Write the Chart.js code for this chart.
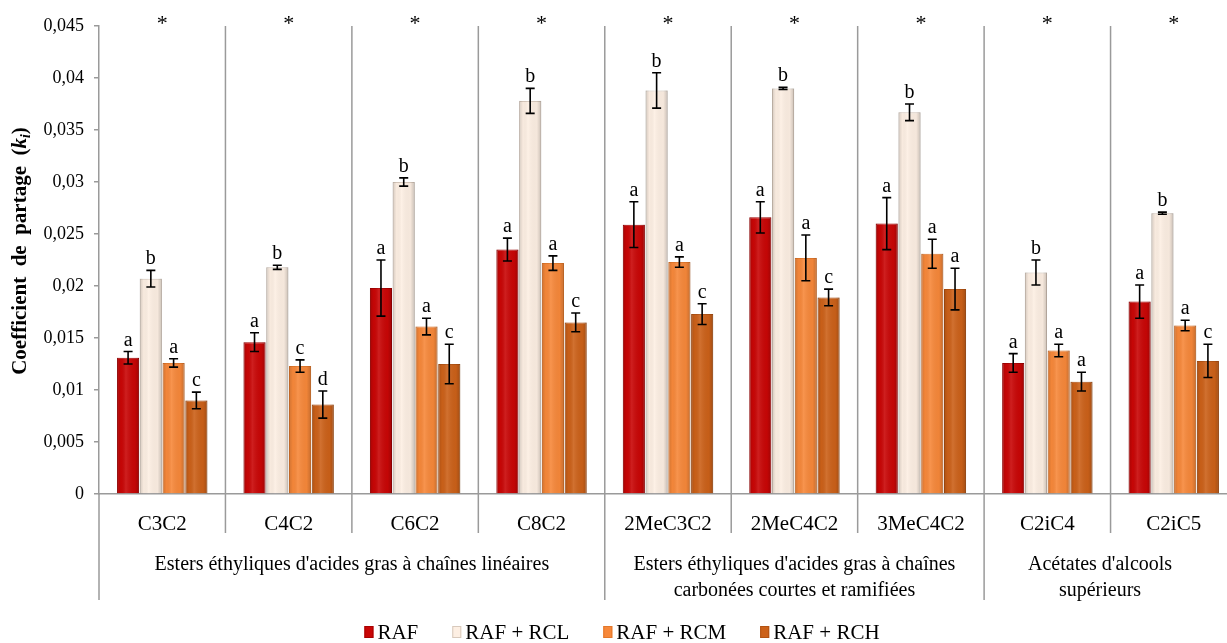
<!DOCTYPE html>
<html>
<head>
<meta charset="utf-8">
<script src="https://cdn.jsdelivr.net/npm/chart.js@4/dist/chart.umd.min.js"></script>
<style>
  html, body { margin: 0; padding: 0; background: #fff; overflow: hidden; }
  #wrap { width: 1227px; height: 643px; overflow: hidden; }
</style>
</head>
<body>
<div id="wrap"><canvas id="chart" width="1240" height="643"></canvas></div>
<script>
const categories = ['C3C2', 'C4C2', 'C6C2', 'C8C2', '2MeC3C2', '2MeC4C2', '3MeC4C2', 'C2iC4', 'C2iC5']
const seriesNames = ['RAF', 'RAF + RCL', 'RAF + RCM', 'RAF + RCH']

const raf = [0.0131, 0.0146, 0.0198, 0.0235, 0.0259, 0.0266, 0.0260, 0.0126, 0.0185]
const rcl = [0.0207, 0.0218, 0.0300, 0.0378, 0.0388, 0.0390, 0.0367, 0.0213, 0.0270]
const rcm = [0.0126, 0.0123, 0.0161, 0.0222, 0.0223, 0.0227, 0.0231, 0.0138, 0.0162]
const rch = [0.0090, 0.0086, 0.0125, 0.0165, 0.0173, 0.0189, 0.0197, 0.0108, 0.0128]

const rafErr = [0.0006, 0.0009, 0.0027, 0.0011, 0.0022, 0.0015, 0.0025, 0.0009, 0.0016]
const rclErr = [0.0008, 0.0002, 0.0004, 0.0012, 0.0017, 0.0001, 0.0008, 0.0012, 0.0001]
const rcmErr = [0.0004, 0.0006, 0.0008, 0.0007, 0.0005, 0.0022, 0.0014, 0.0006, 0.0005]
const rchErr = [0.0008, 0.0013, 0.0019, 0.0009, 0.0010, 0.0008, 0.0020, 0.0009, 0.0016]

const rafLetters = ['a', 'a', 'a', 'a', 'a', 'a', 'a', 'a', 'a']
const rclLetters = ['b', 'b', 'b', 'b', 'b', 'b', 'b', 'b', 'b']
const rcmLetters = ['a', 'c', 'a', 'a', 'a', 'a', 'a', 'a', 'a']
const rchLetters = ['c', 'd', 'c', 'c', 'c', 'c', 'a', 'a', 'c']

const stars = ['*', '*', '*', '*', '*', '*', '*', '*', '*']

const groupNames = [
    ["Esters éthyliques d'acides gras à chaînes linéaires"],
    ["Esters éthyliques d'acides gras à chaînes", 'carbonées courtes et ramifiées'],
    ["Acétates d'alcools", 'supérieurs']
]
const groupStart = [0, 4, 7]
const groupEnd = [3, 6, 8]

const colors = ['#c90606', '#fdefe3', '#f7883a', '#cc6119']
const borders = ['#a80000', '#d8c9bc', '#e2772a', '#b25212']

const SERIF = "'Liberation Serif', 'Times New Roman', serif"
const GRAY = '#9a9a9a'
Chart.defaults.font.family = SERIF

const errs = [rafErr, rclErr, rcmErr, rchErr]
const letters = [rafLetters, rclLetters, rcmLetters, rchLetters]

const overlay = {
    id: 'overlay',
    afterDatasetsDraw(chart) {
        const ctx = chart.ctx
        const area = chart.chartArea
        const x = chart.scales.x
        const y = chart.scales.y
        ctx.save()

        // shading so the bars look rounded
        chart.data.datasets.forEach((ds, i) => {
            chart.getDatasetMeta(i).data.forEach(bar => {
                const l = bar.x - bar.width / 2
                const r = bar.x + bar.width / 2
                const g = ctx.createLinearGradient(l, 0, r, 0)
                g.addColorStop(0, 'rgba(0,0,0,0.16)')
                g.addColorStop(0.18, 'rgba(0,0,0,0.02)')
                g.addColorStop(0.4, 'rgba(255,255,255,0.10)')
                g.addColorStop(0.8, 'rgba(0,0,0,0.03)')
                g.addColorStop(1, 'rgba(0,0,0,0.2)')
                ctx.fillStyle = g
                ctx.fillRect(l, bar.y, r - l, bar.base - bar.y)
            })
        })

        // error bars + letters
        ctx.strokeStyle = '#000'
        ctx.lineWidth = 1.6
        ctx.fillStyle = '#000'
        ctx.font = '20px ' + SERIF
        ctx.textAlign = 'center'
        ctx.textBaseline = 'alphabetic'
        chart.data.datasets.forEach((ds, i) => {
            chart.getDatasetMeta(i).data.forEach((bar, j) => {
                const v = ds.data[j]
                const top = y.getPixelForValue(v + errs[i][j])
                const bot = y.getPixelForValue(v - errs[i][j])
                ctx.beginPath()
                ctx.moveTo(bar.x, top); ctx.lineTo(bar.x, bot)
                ctx.moveTo(bar.x - 4.5, top); ctx.lineTo(bar.x + 4.5, top)
                ctx.moveTo(bar.x - 4.5, bot); ctx.lineTo(bar.x + 4.5, bot)
                ctx.stroke()
                ctx.fillText(letters[i][j], bar.x, top - 6)
            })
        })

        // separators
        const half = (x.getPixelForValue(1) - x.getPixelForValue(0)) / 2
        ctx.strokeStyle = GRAY
        ctx.lineWidth = 1.5
        for (let j = 1; j < categories.length; j++) {
            const px = x.getPixelForValue(j) - half
            ctx.beginPath()
            ctx.moveTo(px, area.top)
            ctx.lineTo(px, groupStart.includes(j) ? area.bottom + 106 : area.bottom + 39)
            ctx.stroke()
        }
        ctx.beginPath()
        ctx.moveTo(area.left, area.bottom)
        ctx.lineTo(area.left, area.bottom + 106)
        ctx.stroke()

        // asterisks
        ctx.font = '22px ' + SERIF
        ctx.textBaseline = 'top'
        stars.forEach((s, j) => ctx.fillText(s, x.getPixelForValue(j), 13))

        // group labels
        ctx.font = '20px ' + SERIF
        ctx.textBaseline = 'middle'
        groupNames.forEach((lines, g) => {
            const l = x.getPixelForValue(groupStart[g]) - half
            const r = Math.min(x.getPixelForValue(groupEnd[g]) + half, 1216)
            lines.forEach((t, k) => ctx.fillText(t, (l + r) / 2, area.bottom + 71 + k * 26))
        })

        // legend
        ctx.font = '21px ' + SERIF
        ctx.textAlign = 'left'
        const items = chart.data.datasets.map(ds => ({ t: ds.label, w: ctx.measureText(ds.label).width }))
        const gapBox = 4, boxW = 9, spacing = 34
        let total = 0
        items.forEach((it, k) => { total += boxW + gapBox + it.w + (k ? spacing : 0) })
        let lx = 622 - total / 2
        const ly = 632
        items.forEach((it, k) => {
            const ds = chart.data.datasets[k]
            ctx.fillStyle = ds.backgroundColor
            ctx.fillRect(lx, ly - 6, boxW, 12)
            ctx.strokeStyle = ds.borderColor
            ctx.lineWidth = 1
            ctx.strokeRect(lx + 0.5, ly - 5.5, boxW - 1, 11)
            ctx.fillStyle = '#000'
            ctx.fillText(it.t, lx + boxW + gapBox, ly + 1)
            lx += boxW + gapBox + it.w + spacing
        })

        // y axis title, italic k with subscript i
        ctx.translate(21, (area.top + area.bottom) / 2 - 9)
        ctx.rotate(-Math.PI / 2)
        ctx.textBaseline = 'middle'
        const parts = [
            { t: 'Coefficient  de  partage  (', f: 'bold 21px ' + SERIF, dy: 0 },
            { t: 'k', f: 'italic bold 21px ' + SERIF, dy: 0 },
            { t: 'i', f: 'italic bold 14px ' + SERIF, dy: 5 },
            { t: ')', f: 'bold 21px ' + SERIF, dy: 0 }
        ]
        let w = 0
        parts.forEach(p => { ctx.font = p.f; w += ctx.measureText(p.t).width })
        let cx = -w / 2
        parts.forEach(p => {
            ctx.font = p.f
            ctx.fillText(p.t, cx, p.dy)
            cx += ctx.measureText(p.t).width
        })
        ctx.restore()
    }
}

const values = [raf, rcl, rcm, rch]

new Chart(document.getElementById('chart'), {
    type: 'bar',
    data: {
        labels: categories,
        datasets: values.map((v, i) => ({
            label: seriesNames[i],
            data: v,
            backgroundColor: colors[i],
            borderColor: borders[i],
            borderWidth: 1,
            categoryPercentage: 0.72,
            barPercentage: 0.97
        }))
    },
    options: {
        responsive: false,
        devicePixelRatio: 1,
        animation: false,
        layout: { padding: { top: 26, left: 0, right: 3, bottom: 37 } },
        plugins: {
            tooltip: { enabled: false },
            legend: { display: false }
        },
        scales: {
            x: {
                grid: { display: false },
                border: { color: GRAY, width: 1.5 },
                ticks: { color: '#000', font: { family: SERIF, size: 21 }, padding: 10, maxRotation: 0, autoSkip: false },
                afterFit(scale) { scale.height = 112 }
            },
            y: {
                min: 0,
                max: 0.045,
                grid: { drawOnChartArea: false, tickLength: 5, color: GRAY, lineWidth: 1.5 },
                border: { color: GRAY, width: 1.5 },
                ticks: {
                    stepSize: 0.005,
                    color: '#000',
                    font: { family: SERIF, size: 18 },
                    padding: 10,
                    callback: v => String(parseFloat(v.toFixed(3))).replace('.', ',')
                },
                afterFit(scale) { scale.width = 99 }
            }
        }
    },
    plugins: [overlay]
})
</script>
</body>
</html>
